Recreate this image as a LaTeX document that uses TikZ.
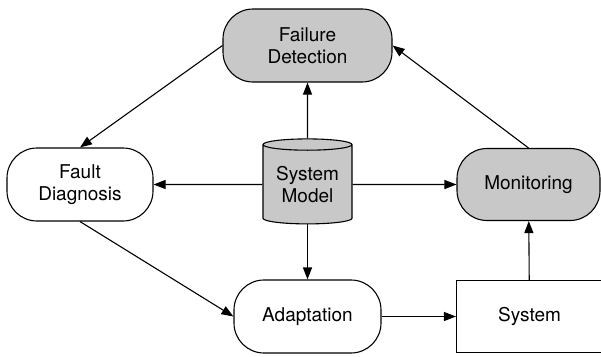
\documentclass[tikz,border=0pt]{standalone}
\usepackage{fontspec}
\setmainfont{TeX Gyre Heros}
\usetikzlibrary{arrows.meta}
\usetikzlibrary{shapes.geometric}
\definecolor{boxgray}{RGB}{200,200,200}

\begin{document}
\begin{tikzpicture}[x=1pt,y=1pt,->,>={Triangle[length=12pt,width=9pt]},line width=1.1pt,
	font=\fontsize{19}{22}\selectfont,
	step node/.style={draw,rounded corners=30pt,align=center,inner sep=0pt,minimum height=73pt},
	grey node/.style={step node,fill=boxgray}]

	\useasboundingbox (0,0) rectangle (601,-356);

	\node[cylinder,shape border rotate=90,draw,fill=boxgray,aspect=0.18,align=center,inner sep=0pt,
		minimum width=89pt,minimum height=85pt] (model) at (307.5,-184.5) {System\\Model};
	\node[grey node,minimum width=169pt] (fd) [above of=model,node distance=139pt] {Failure\\Detection};
	\node[step node,minimum width=146pt] (diag) [left of=model,node distance=227.5pt] {Fault\\Diagnosis};
	\node[grey node,minimum width=143pt,minimum height=72pt] (mon) [right of=model,node distance=221pt] {Monitoring};
	\node[step node,minimum width=147pt] (adapt) [below of=model,node distance=132pt] {Adaptation};
	\node[draw,minimum width=146pt,minimum height=72pt,inner sep=0pt] (sys) [right of=adapt,node distance=222pt] {System};

	\path[->]
	(model) edge (fd)
	(model) edge (diag)
	(model) edge (mon)
	(model) edge (adapt)
	(fd.west) edge (diag.north)
	(mon.north) edge (fd.east)
	(diag.south) edge (adapt.west)
	(adapt) edge (sys)
	(sys) edge (mon);

\end{tikzpicture}
\end{document}
